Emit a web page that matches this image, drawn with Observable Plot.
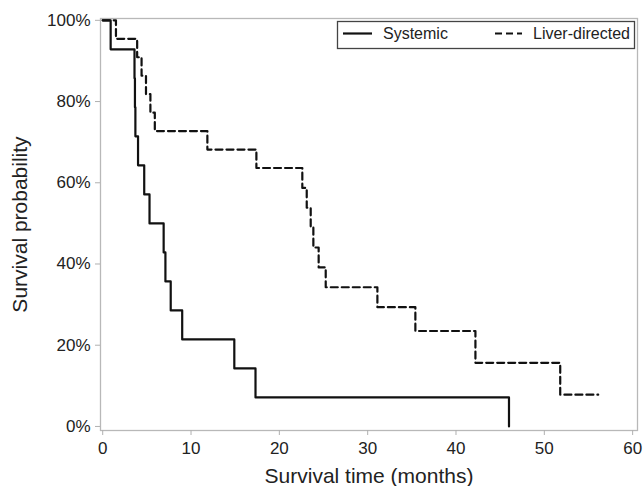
<!DOCTYPE html>
<html>
<head>
<meta charset="utf-8">
<script src="https://cdn.jsdelivr.net/npm/d3@7"></script>
<script src="https://cdn.jsdelivr.net/npm/@observablehq/plot@0.6"></script>
<style>
  html, body { margin: 0; padding: 0; background: #fff; }
  #chart svg { display: block; }
</style>
</head>
<body>
<div id="chart"></div>
<script>
// Kaplan–Meier steps (time in months, survival in %)
const systemicTime = [0, 0.9, 3.6, 3.65, 3.7, 4.0, 4.7, 5.3, 6.9, 7.1, 7.7, 9.0, 14.9, 17.3, 46.0];
const systemicSurv = [100, 92.86, 85.71, 78.57, 71.43, 64.29, 57.14, 50, 42.86, 35.71, 28.57, 21.43, 14.29, 7.14, 0];

const liverTime = [0, 1.5, 3.9, 4.4, 4.9, 5.4, 5.9, 11.85, 17.4, 22.6, 23.1, 23.55, 23.85, 24.45, 25.25, 31.1, 35.4, 42.2, 51.8, 56.1];
const liverSurv = [100, 95.45, 90.91, 86.36, 81.82, 77.27, 72.73, 68.18, 63.64, 58.74, 53.85, 48.95, 44.06, 39.16, 34.27, 29.37, 23.5, 15.66, 7.83, 7.83];

const xTicks = [0, 10, 20, 30, 40, 50, 60];
const yTicks = [0, 20, 40, 60, 80, 100];
const seriesNames = ["Systemic", "Liver-directed"];
const xLabel = "Survival time (months)";
const yLabel = "Survival probability";

const systemic = systemicTime.map((t, i) => ({time: t, surv: systemicSurv[i]}));
const liver = liverTime.map((t, i) => ({time: t, surv: liverSurv[i]}));

const font = "'Liberation Sans', Arial, Helvetica, sans-serif";

const plot = Plot.plot({
  width: 643,
  height: 486,
  marginLeft: 100,
  marginRight: 6,
  marginTop: 18,
  marginBottom: 56,
  style: {fontFamily: font, fontSize: "17px", background: "#fff", color: "#222"},
  x: {domain: [-0.25, 60.55]},
  y: {domain: [-1, 100.45]},
  marks: [
    Plot.frame({stroke: "#b8b8b8", strokeWidth: 1.3}),
    Plot.axisX({ticks: xTicks, tickSize: 5, tickPadding: 6, stroke: "#b0b0b0", fill: "#222", fontSize: 17, label: null, tickFormat: d => d}),
    Plot.axisY({ticks: yTicks, tickSize: 5, tickPadding: 5, stroke: "#b0b0b0", fill: "#222", fontSize: 17, label: null, tickFormat: d => d + "%"}),
    Plot.line(liver, {x: "time", y: "surv", curve: "step-after", stroke: "#111", strokeWidth: 2.2, strokeDasharray: "7,4"}),
    Plot.line(systemic, {x: "time", y: "surv", curve: "step-after", stroke: "#111", strokeWidth: 2.2}),
    Plot.text([xLabel], {frameAnchor: "bottom", dy: 46, text: d => d, fontSize: 21, fill: "#222", lineAnchor: "middle", textAnchor: "middle"}),
    Plot.text([yLabel], {frameAnchor: "left", dx: -80, rotate: -90, text: d => d, fontSize: 21, fill: "#222", lineAnchor: "middle", textAnchor: "middle"})
  ]
});

// Legend box inside the plot area (top right)
const svg = d3.select(plot);
const g = svg.append("g").attr("font-family", font).attr("font-size", 16).attr("fill", "#222").attr("text-anchor", "start");
g.append("rect").attr("x", 337.5).attr("y", 21.5).attr("width", 297).attr("height", 27)
  .attr("fill", "#fff").attr("stroke", "#444").attr("stroke-width", 1.3);
g.append("line").attr("x1", 343).attr("x2", 372).attr("y1", 33.5).attr("y2", 33.5)
  .attr("stroke", "#111").attr("stroke-width", 2.2);
g.append("text").attr("x", 383).attr("y", 39).attr("text-anchor", "start").text(seriesNames[0]);
g.append("line").attr("x1", 495).attr("x2", 522).attr("y1", 33.5).attr("y2", 33.5)
  .attr("stroke", "#111").attr("stroke-width", 2.2).attr("stroke-dasharray", "7,4");
g.append("text").attr("x", 533).attr("y", 39).attr("text-anchor", "start").text(seriesNames[1]);

document.getElementById("chart").appendChild(plot);
</script>
</body>
</html>
